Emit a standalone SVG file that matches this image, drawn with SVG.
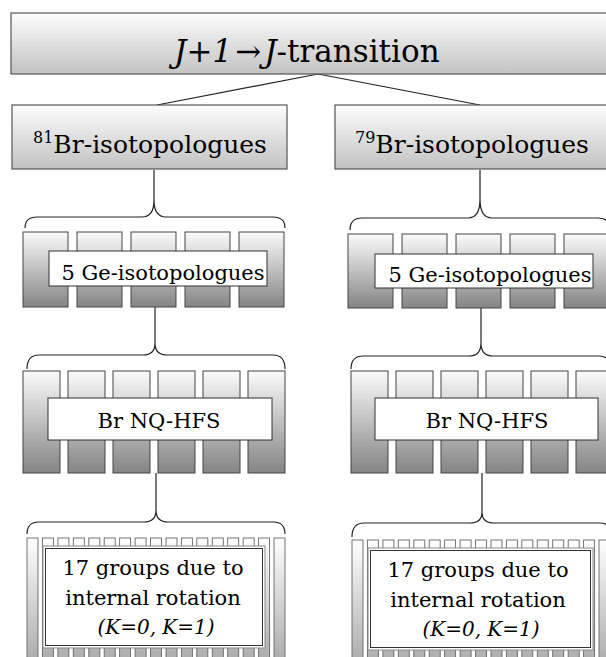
<svg xmlns="http://www.w3.org/2000/svg" width="606" height="657" viewBox="0 0 606 657">
<defs>
<linearGradient id="gTop" x1="0" y1="0" x2="0" y2="1"><stop offset="0" stop-color="#fdfdfd"/><stop offset="1" stop-color="#c2c2c2"/></linearGradient>
<linearGradient id="gBox" x1="0" y1="0" x2="0" y2="1"><stop offset="0" stop-color="#fbfbfb"/><stop offset="1" stop-color="#848484"/></linearGradient>
<linearGradient id="gTall" x1="0" y1="0" x2="0" y2="1"><stop offset="0" stop-color="#ffffff"/><stop offset="1" stop-color="#999999"/></linearGradient>
<style>
.t{font-family:"DejaVu Serif",serif;fill:#000}
.hd{fill:url(#gTop);stroke:#555;stroke-width:1.2}
.bx{fill:url(#gBox);stroke:#444;stroke-width:1}
.tl{fill:url(#gTall);stroke:#666;stroke-width:0.9}
.lb{fill:#fff;stroke:#333;stroke-width:1}
.lo{fill:#fff;stroke:#888;stroke-width:1}
.li{fill:none;stroke:#333;stroke-width:1}
.c{fill:none;stroke:#222;stroke-width:1.2}
</style>
</defs>
<g id="connectors">
<path class="c" d="M318 74 L157 105 M318 74 L480 105"/>
<path class="c" d="M154 170 V200 M480 170 V199 M155 307 V343 M481 308 V343 M156 473 V510 M482 473 V512"/>
<path class="c" d="M25 228 Q25 217 37 217 H142 Q154 217 154 200 Q154 217 166 217 H273 Q285 217 285 228"/>
<path class="c" d="M350 230 Q350 218 362 218 H468 Q480 218 480 199 Q480 218 492 218 H598 Q610 218 610 230"/>
<path class="c" d="M27 369 Q27 355 39 355 H143 Q155 355 155 343 Q155 355 167 355 H273 Q285 355 285 369"/>
<path class="c" d="M351 369 Q351 356 363 356 H469 Q481 356 481 343 Q481 356 493 356 H599 Q611 356 611 369"/>
<path class="c" d="M27 534 Q27 522 39 522 H144 Q156 522 156 510 Q156 522 168 522 H273 Q285 522 285 534"/>
<path class="c" d="M352 537 Q352 523 364 523 H470 Q482 523 482 512 Q482 523 494 523 H600 Q612 523 612 537"/>
</g>
<g id="node-transition">
<rect class="hd" x="11" y="13" width="620" height="61"/>
<text class="t" x="174" y="62" font-size="31"><tspan font-style="italic">J</tspan>+<tspan font-style="italic">1</tspan><tspan dx="3">→</tspan><tspan dx="3" font-style="italic">J</tspan>-transition</text>
</g>
<g id="node-br81">
<rect class="hd" x="12" y="105" width="275" height="64"/>
<text class="t" x="33" y="153" font-size="25"><tspan font-size="16" dy="-10">81</tspan><tspan dy="10">Br-isotopologues</tspan></text>
</g>
<g id="node-br79">
<rect class="hd" x="335" y="105" width="280" height="64"/>
<text class="t" x="355" y="153" font-size="25"><tspan font-size="16" dy="-10">79</tspan><tspan dy="10">Br-isotopologues</tspan></text>
</g>
<g id="node-ge-left">
<rect class="bx" x="23" y="232" width="45" height="75"/>
<rect class="bx" x="77" y="232" width="45" height="75"/>
<rect class="bx" x="131" y="232" width="45" height="75"/>
<rect class="bx" x="185" y="232" width="45" height="75"/>
<rect class="bx" x="239" y="232" width="45" height="75"/>
<rect class="lb" x="49" y="251" width="218" height="35"/>
<text class="t" x="163" y="280" font-size="21" text-anchor="middle">5 Ge-isotopologues</text>
</g>
<g id="node-ge-right">
<rect class="bx" x="348" y="234" width="45" height="74"/>
<rect class="bx" x="402" y="234" width="45" height="74"/>
<rect class="bx" x="456" y="234" width="45" height="74"/>
<rect class="bx" x="510" y="234" width="45" height="74"/>
<rect class="bx" x="564" y="234" width="45" height="74"/>
<rect class="lb" x="375" y="254" width="218" height="34"/>
<text class="t" x="490" y="282" font-size="21" text-anchor="middle">5 Ge-isotopologues</text>
</g>
<g id="node-hfs-left">
<rect class="bx" x="23" y="371" width="37" height="102"/>
<rect class="bx" x="68" y="371" width="37" height="102"/>
<rect class="bx" x="113" y="371" width="37" height="102"/>
<rect class="bx" x="158" y="371" width="37" height="102"/>
<rect class="bx" x="203" y="371" width="37" height="102"/>
<rect class="bx" x="248" y="371" width="37" height="102"/>
<rect class="lb" x="48" y="398" width="224" height="42"/>
<text class="t" x="159" y="428" font-size="21" text-anchor="middle">Br NQ-HFS</text>
</g>
<g id="node-hfs-right">
<rect class="bx" x="351" y="371" width="37" height="102"/>
<rect class="bx" x="396" y="371" width="37" height="102"/>
<rect class="bx" x="441" y="371" width="37" height="102"/>
<rect class="bx" x="486" y="371" width="37" height="102"/>
<rect class="bx" x="531" y="371" width="37" height="102"/>
<rect class="bx" x="576" y="371" width="37" height="102"/>
<rect class="lb" x="375" y="398" width="223" height="42"/>
<text class="t" x="487" y="428" font-size="21" text-anchor="middle">Br NQ-HFS</text>
</g>
<g id="node-rot-left">
<rect class="tl" x="27" y="538" width="11" height="150"/>
<rect class="tl" x="42.4" y="538" width="11" height="150"/>
<rect class="tl" x="57.9" y="538" width="11" height="150"/>
<rect class="tl" x="73.3" y="538" width="11" height="150"/>
<rect class="tl" x="88.8" y="538" width="11" height="150"/>
<rect class="tl" x="104.2" y="538" width="11" height="150"/>
<rect class="tl" x="119.6" y="538" width="11" height="150"/>
<rect class="tl" x="135.1" y="538" width="11" height="150"/>
<rect class="tl" x="150.5" y="538" width="11" height="150"/>
<rect class="tl" x="166" y="538" width="11" height="150"/>
<rect class="tl" x="181.4" y="538" width="11" height="150"/>
<rect class="tl" x="196.8" y="538" width="11" height="150"/>
<rect class="tl" x="212.3" y="538" width="11" height="150"/>
<rect class="tl" x="227.7" y="538" width="11" height="150"/>
<rect class="tl" x="243.2" y="538" width="11" height="150"/>
<rect class="tl" x="258.6" y="538" width="11" height="150"/>
<rect class="tl" x="274" y="538" width="11" height="150"/>
<rect class="lo" x="43" y="546" width="222" height="102"/>
<rect class="li" x="45.5" y="548.5" width="217" height="97"/>
<text class="t" x="153" y="575" font-size="21" text-anchor="middle">17 groups due to</text>
<text class="t" x="153" y="605" font-size="21" text-anchor="middle">internal rotation</text>
<text class="t" x="156" y="634" font-size="20" text-anchor="middle" font-style="italic">(K=0, K=1)</text>
</g>
<g id="node-rot-right">
<rect class="tl" x="352" y="540" width="11" height="150"/>
<rect class="tl" x="367.4" y="540" width="11" height="150"/>
<rect class="tl" x="382.9" y="540" width="11" height="150"/>
<rect class="tl" x="398.3" y="540" width="11" height="150"/>
<rect class="tl" x="413.8" y="540" width="11" height="150"/>
<rect class="tl" x="429.2" y="540" width="11" height="150"/>
<rect class="tl" x="444.6" y="540" width="11" height="150"/>
<rect class="tl" x="460.1" y="540" width="11" height="150"/>
<rect class="tl" x="475.5" y="540" width="11" height="150"/>
<rect class="tl" x="491" y="540" width="11" height="150"/>
<rect class="tl" x="506.4" y="540" width="11" height="150"/>
<rect class="tl" x="521.8" y="540" width="11" height="150"/>
<rect class="tl" x="537.3" y="540" width="11" height="150"/>
<rect class="tl" x="552.7" y="540" width="11" height="150"/>
<rect class="tl" x="568.2" y="540" width="11" height="150"/>
<rect class="tl" x="583.6" y="540" width="11" height="150"/>
<rect class="tl" x="599" y="540" width="11" height="150"/>
<rect class="lo" x="368" y="548" width="225" height="102"/>
<rect class="li" x="370.5" y="550.5" width="220" height="97"/>
<text class="t" x="478" y="577" font-size="21" text-anchor="middle">17 groups due to</text>
<text class="t" x="478" y="607" font-size="21" text-anchor="middle">internal rotation</text>
<text class="t" x="481" y="636" font-size="20" text-anchor="middle" font-style="italic">(K=0, K=1)</text>
</g>
</svg>
